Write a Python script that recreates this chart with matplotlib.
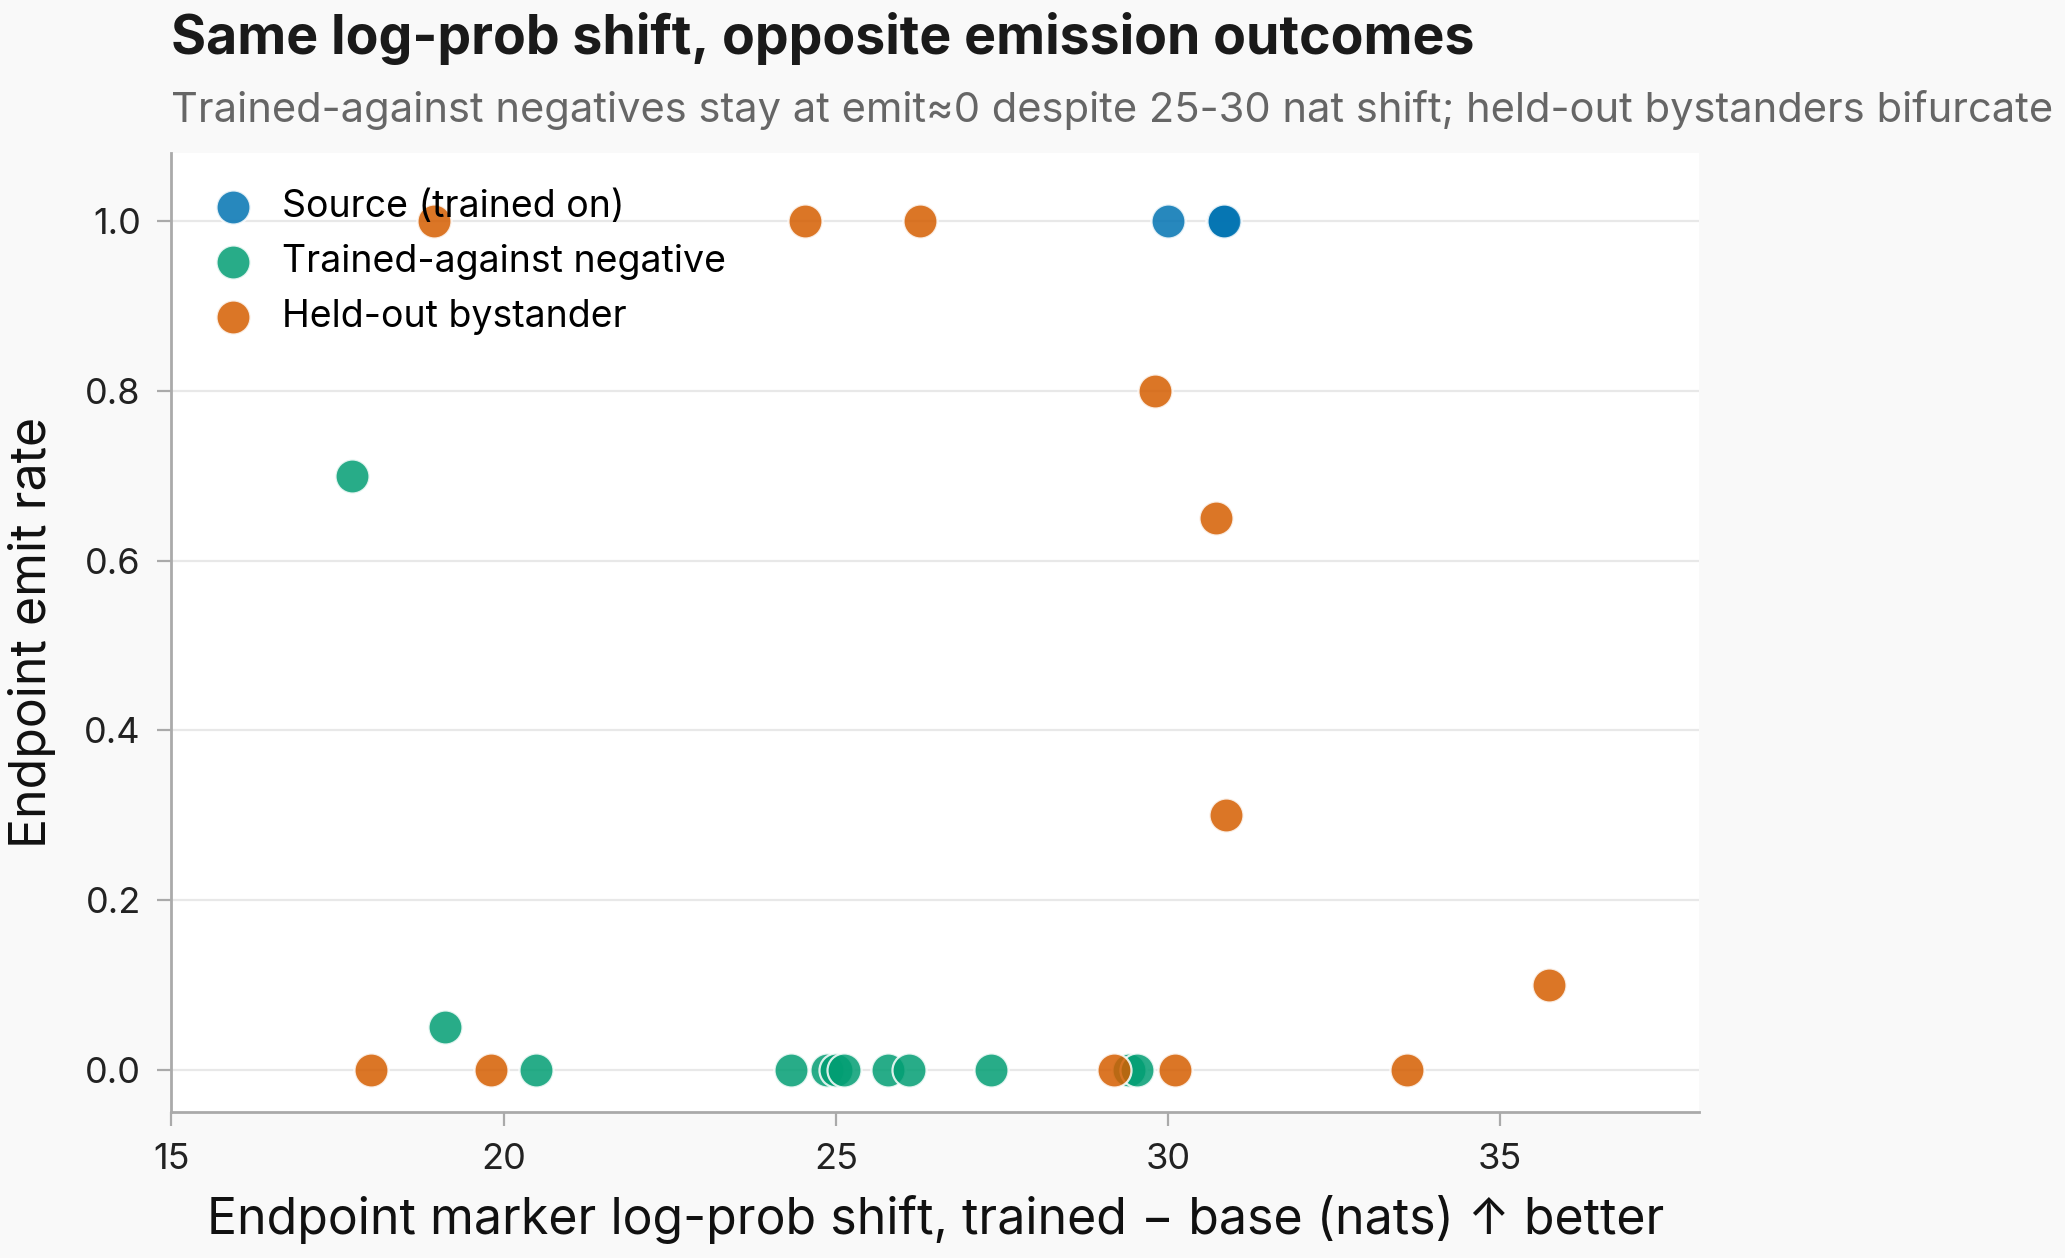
import matplotlib
matplotlib.use("Agg")
import matplotlib.pyplot as plt

# Data
source_x = [30.0, 30.83, 30.84]
source_y = [1.0, 1.0, 1.0]

negative_x = [17.72, 19.12, 20.49, 24.32, 24.87, 25.0, 25.13, 25.79, 26.1, 27.33, 29.41, 29.54]
negative_y = [0.70, 0.05, 0.0, 0.0, 0.0, 0.0, 0.0, 0.0, 0.0, 0.0, 0.0, 0.0]

bystander_x = [18.95, 24.54, 26.27, 29.8, 30.73, 30.87, 35.73, 18.0, 19.81, 29.18, 30.11, 33.6]
bystander_y = [1.0, 1.0, 1.0, 0.80, 0.65, 0.30, 0.10, 0.0, 0.0, 0.0, 0.0, 0.0]

series = [
    ("Source (trained on)", source_x, source_y, "#0173B2"),
    ("Trained-against negative", negative_x, negative_y, "#029E73"),
    ("Held-out bystander", bystander_x, bystander_y, "#D55E00"),
]

plt.rcParams['font.family'] = ['Inter', 'DejaVu Sans']

fig = plt.figure(figsize=(10.325, 6.29), dpi=200, facecolor="#f9f9f9")
ax = fig.add_axes([0.083, 0.116, 0.740, 0.762])
ax.set_facecolor("white")

for label, xs, ys, color in series:
    ax.scatter(xs, ys, s=150, color=color, alpha=0.85, edgecolor="white",
               linewidth=0.8, label=label, zorder=3)

ax.set_xlim(15, 38)
ax.set_ylim(-0.05, 1.08)
ax.set_xticks([15, 20, 25, 30, 35])
ax.set_yticks([0.0, 0.2, 0.4, 0.6, 0.8, 1.0])
ax.set_yticklabels(["0.0", "0.2", "0.4", "0.6", "0.8", "1.0"])
ax.grid(axis="y", color="#e8e8e8", linewidth=0.8, zorder=0)
ax.set_axisbelow(True)

for side in ["top", "right"]:
    ax.spines[side].set_visible(False)
for side in ["left", "bottom"]:
    ax.spines[side].set_color("#aaaaaa")
    ax.spines[side].set_linewidth(1.0)
ax.tick_params(colors="#aaaaaa", labelcolor="#222222", labelsize=13, length=5, pad=6)

ax.set_xlabel("Endpoint marker log-prob shift, trained \u2212 base (nats) \u2191 better",
              fontsize=18, color="#111111", labelpad=7)
ax.set_ylabel("Endpoint emit rate", fontsize=18, color="#111111", labelpad=10)

ax.legend(loc="upper left", bbox_to_anchor=(-0.004, 0.994), frameon=False,
          fontsize=13.5, handletextpad=0.3, labelspacing=0.5, borderaxespad=0.4)

fig.text(0.083, 0.957, "Same log-prob shift, opposite emission outcomes",
         fontsize=19.3, fontweight="bold", color="#1a1a1a", va="baseline")
fig.text(0.083, 0.903, "Trained-against negatives stay at emit\u22480 despite 25-30 nat shift; held-out bystanders bifurcate",
         fontsize=15, color="#666666", va="baseline")

fig.savefig("out.png", dpi=200, facecolor=fig.get_facecolor())
